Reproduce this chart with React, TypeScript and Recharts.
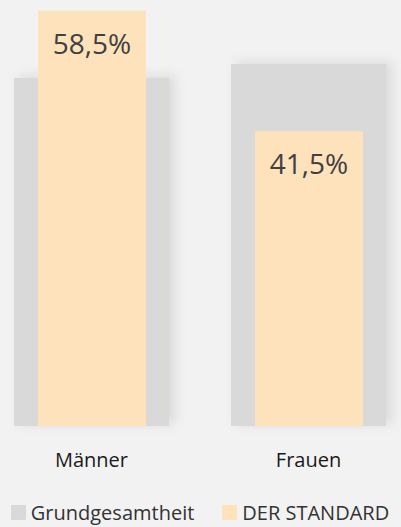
import { Bar, BarChart, LabelList, Legend, XAxis, YAxis } from 'recharts'

const categories = ['Männer', 'Frauen']
const grundgesamtheit = [49, 51]
const derStandard = [58.5, 41.5]

const data = categories.map((name, i) => ({
  name,
  grund: grundgesamtheit[i],
  standard: derStandard[i],
}))

const FONT = '"Open Sans", "Noto Sans", sans-serif'

function ValueLabel(props: any) {
  const { x, y, width, value } = props
  return (
    <text
      x={x + width / 2}
      y={y + 43}
      textAnchor="middle"
      fontFamily={FONT}
      fontSize={28}
      fill="#404040"
    >
      {String(value).replace('.', ',')}%
    </text>
  )
}

function LegendContent() {
  const items = [
    { label: 'Grundgesamtheit', color: '#d9d9d9' },
    { label: 'DER STANDARD', color: '#fee2bb' },
  ]
  return (
    <div
      style={{
        height: '30px',
        display: 'flex',
        justifyContent: 'center',
        alignItems: 'center',
        gap: '28px',
        fontFamily: FONT,
        fontSize: '20px',
        color: '#333',
      }}
    >
      {items.map((item) => (
        <div key={item.label} style={{ display: 'flex', alignItems: 'center', gap: '5px' }}>
          <span style={{ width: '15px', height: '15px', background: item.color, display: 'inline-block' }} />
          <span>{item.label}</span>
        </div>
      ))}
    </div>
  )
}

export default function App() {
  return (
    <div
      style={{
        position: 'absolute',
        left: 0,
        top: 0,
        width: '401px',
        height: '527px',
        overflow: 'hidden',
        background: '#f2f2f2',
      }}
    >
      <svg width={0} height={0} style={{ position: 'absolute' }}>
        <defs>
          <filter id="barShadow" x="-30%" y="-30%" width="160%" height="160%">
            <feDropShadow dx={6} dy={-2} stdDeviation={6} floodColor="#000" floodOpacity={0.1} />
          </filter>
        </defs>
      </svg>
      <div style={{ position: 'absolute', left: '-17px', top: 0 }}>
        <BarChart width={434} height={527} data={data} margin={{ top: 0, right: 0, bottom: 0, left: 0 }}>
          <XAxis
            xAxisId="bg"
            dataKey="name"
            axisLine={false}
            tickLine={false}
            tickSize={0}
            tickMargin={27}
            height={71}
            tick={{ fill: '#1a1a1a', fontSize: 20, fontFamily: FONT }}
          />
          <XAxis xAxisId="fg" dataKey="name" hide />
          <YAxis domain={[0, 60]} hide />
          <Legend verticalAlign="bottom" content={<LegendContent />} />
          <Bar
            xAxisId="bg"
            dataKey="grund"
            name="Grundgesamtheit"
            fill="#d9d9d9"
            barSize={155}
            filter="url(#barShadow)"
            isAnimationActive={false}
          />
          <Bar
            xAxisId="fg"
            dataKey="standard"
            name="DER STANDARD"
            fill="#fee2bb"
            barSize={108}
            isAnimationActive={false}
          >
            <LabelList dataKey="standard" content={<ValueLabel />} />
          </Bar>
        </BarChart>
      </div>
    </div>
  )
}
